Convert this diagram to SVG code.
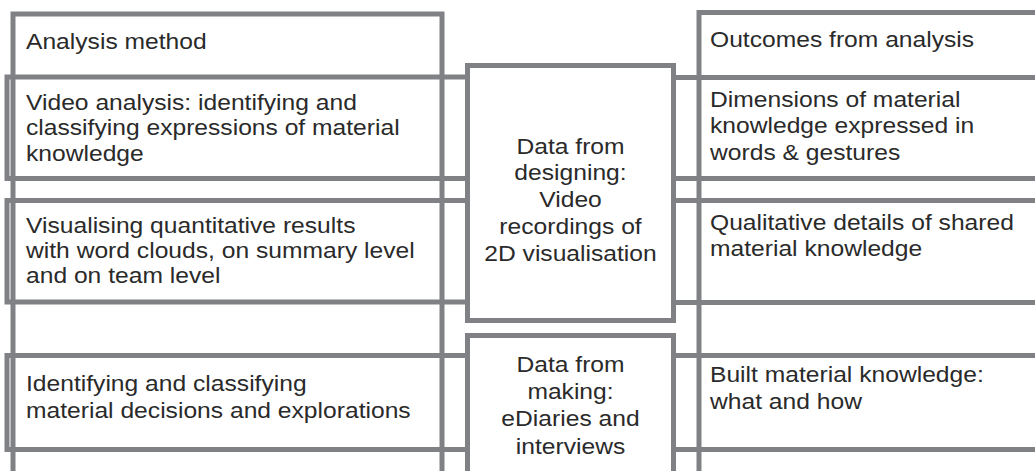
<svg xmlns="http://www.w3.org/2000/svg" width="1035" height="471" viewBox="0 0 1035 471">
<style>
.b{fill:none;stroke:#7f8185;stroke-width:5}
.t{font-family:"Liberation Sans",Arial,sans-serif;font-size:22px;fill:#2a2a2a}
.c{text-anchor:middle}
</style>
<rect width="1035" height="471" fill="#fff"/>
<g id="col-analysis-method">
<rect class="b" x="13" y="14" width="429" height="520"/>
<text class="t" transform="translate(26,49) scale(1.12 1)">Analysis method</text>
</g>
<g id="col-outcomes">
<rect class="b" x="699" y="12.5" width="420" height="520"/>
<text class="t" transform="translate(710,46.5) scale(1.12 1)">Outcomes from analysis</text>
</g>
<g id="method-video-analysis">
<rect class="b" x="7" y="77" width="460.5" height="101.5"/>
<text class="t" transform="translate(26,0) scale(1.12 1)"><tspan x="0" y="110">Video analysis: identifying and</tspan><tspan x="0" y="135.5">classifying expressions of material</tspan><tspan x="0" y="161">knowledge</tspan></text>
</g>
<g id="method-visualising">
<rect class="b" x="7" y="200.5" width="460.5" height="101.5"/>
<text class="t" transform="translate(26,0) scale(1.12 1)"><tspan x="0" y="233.5">Visualising quantitative results</tspan><tspan x="0" y="258.5">with word clouds, on summary level</tspan><tspan x="0" y="283.5">and on team level</tspan></text>
</g>
<g id="method-identifying">
<rect class="b" x="7" y="355.5" width="460.5" height="94"/>
<text class="t" transform="translate(26,0) scale(1.12 1)"><tspan x="0" y="391.5">Identifying and classifying</tspan><tspan x="0" y="418">material decisions and explorations</tspan></text>
</g>
<g id="data-designing">
<rect class="b" x="467.5" y="65.5" width="206" height="255"/>
<text class="t c" transform="translate(570.5,0) scale(1.12 1)"><tspan x="0" y="154">Data from</tspan><tspan x="0" y="180.5">designing:</tspan><tspan x="0" y="207">Video</tspan><tspan x="0" y="234">recordings of</tspan><tspan x="0" y="261">2D visualisation</tspan></text>
</g>
<g id="data-making">
<rect class="b" x="467.5" y="335.5" width="206" height="200"/>
<text class="t c" transform="translate(570.5,0) scale(1.12 1)"><tspan x="0" y="372">Data from</tspan><tspan x="0" y="399">making:</tspan><tspan x="0" y="426.5">eDiaries and</tspan><tspan x="0" y="454">interviews</tspan></text>
</g>
<g id="outcome-dimensions">
<rect class="b" x="673.5" y="77.5" width="420" height="101"/>
<text class="t" transform="translate(710,0) scale(1.12 1)"><tspan x="0" y="107">Dimensions of material</tspan><tspan x="0" y="133.5">knowledge expressed in</tspan><tspan x="0" y="160">words &amp; gestures</tspan></text>
</g>
<g id="outcome-qualitative">
<rect class="b" x="673.5" y="200.5" width="420" height="102"/>
<text class="t" transform="translate(710,0) scale(1.12 1)"><tspan x="0" y="230">Qualitative details of shared</tspan><tspan x="0" y="256.5">material knowledge</tspan></text>
</g>
<g id="outcome-built">
<rect class="b" x="673.5" y="355.5" width="420" height="94"/>
<text class="t" transform="translate(710,0) scale(1.12 1)"><tspan x="0" y="382">Built material knowledge:</tspan><tspan x="0" y="409">what and how</tspan></text>
</g>
<g id="connectors"/>
</svg>
